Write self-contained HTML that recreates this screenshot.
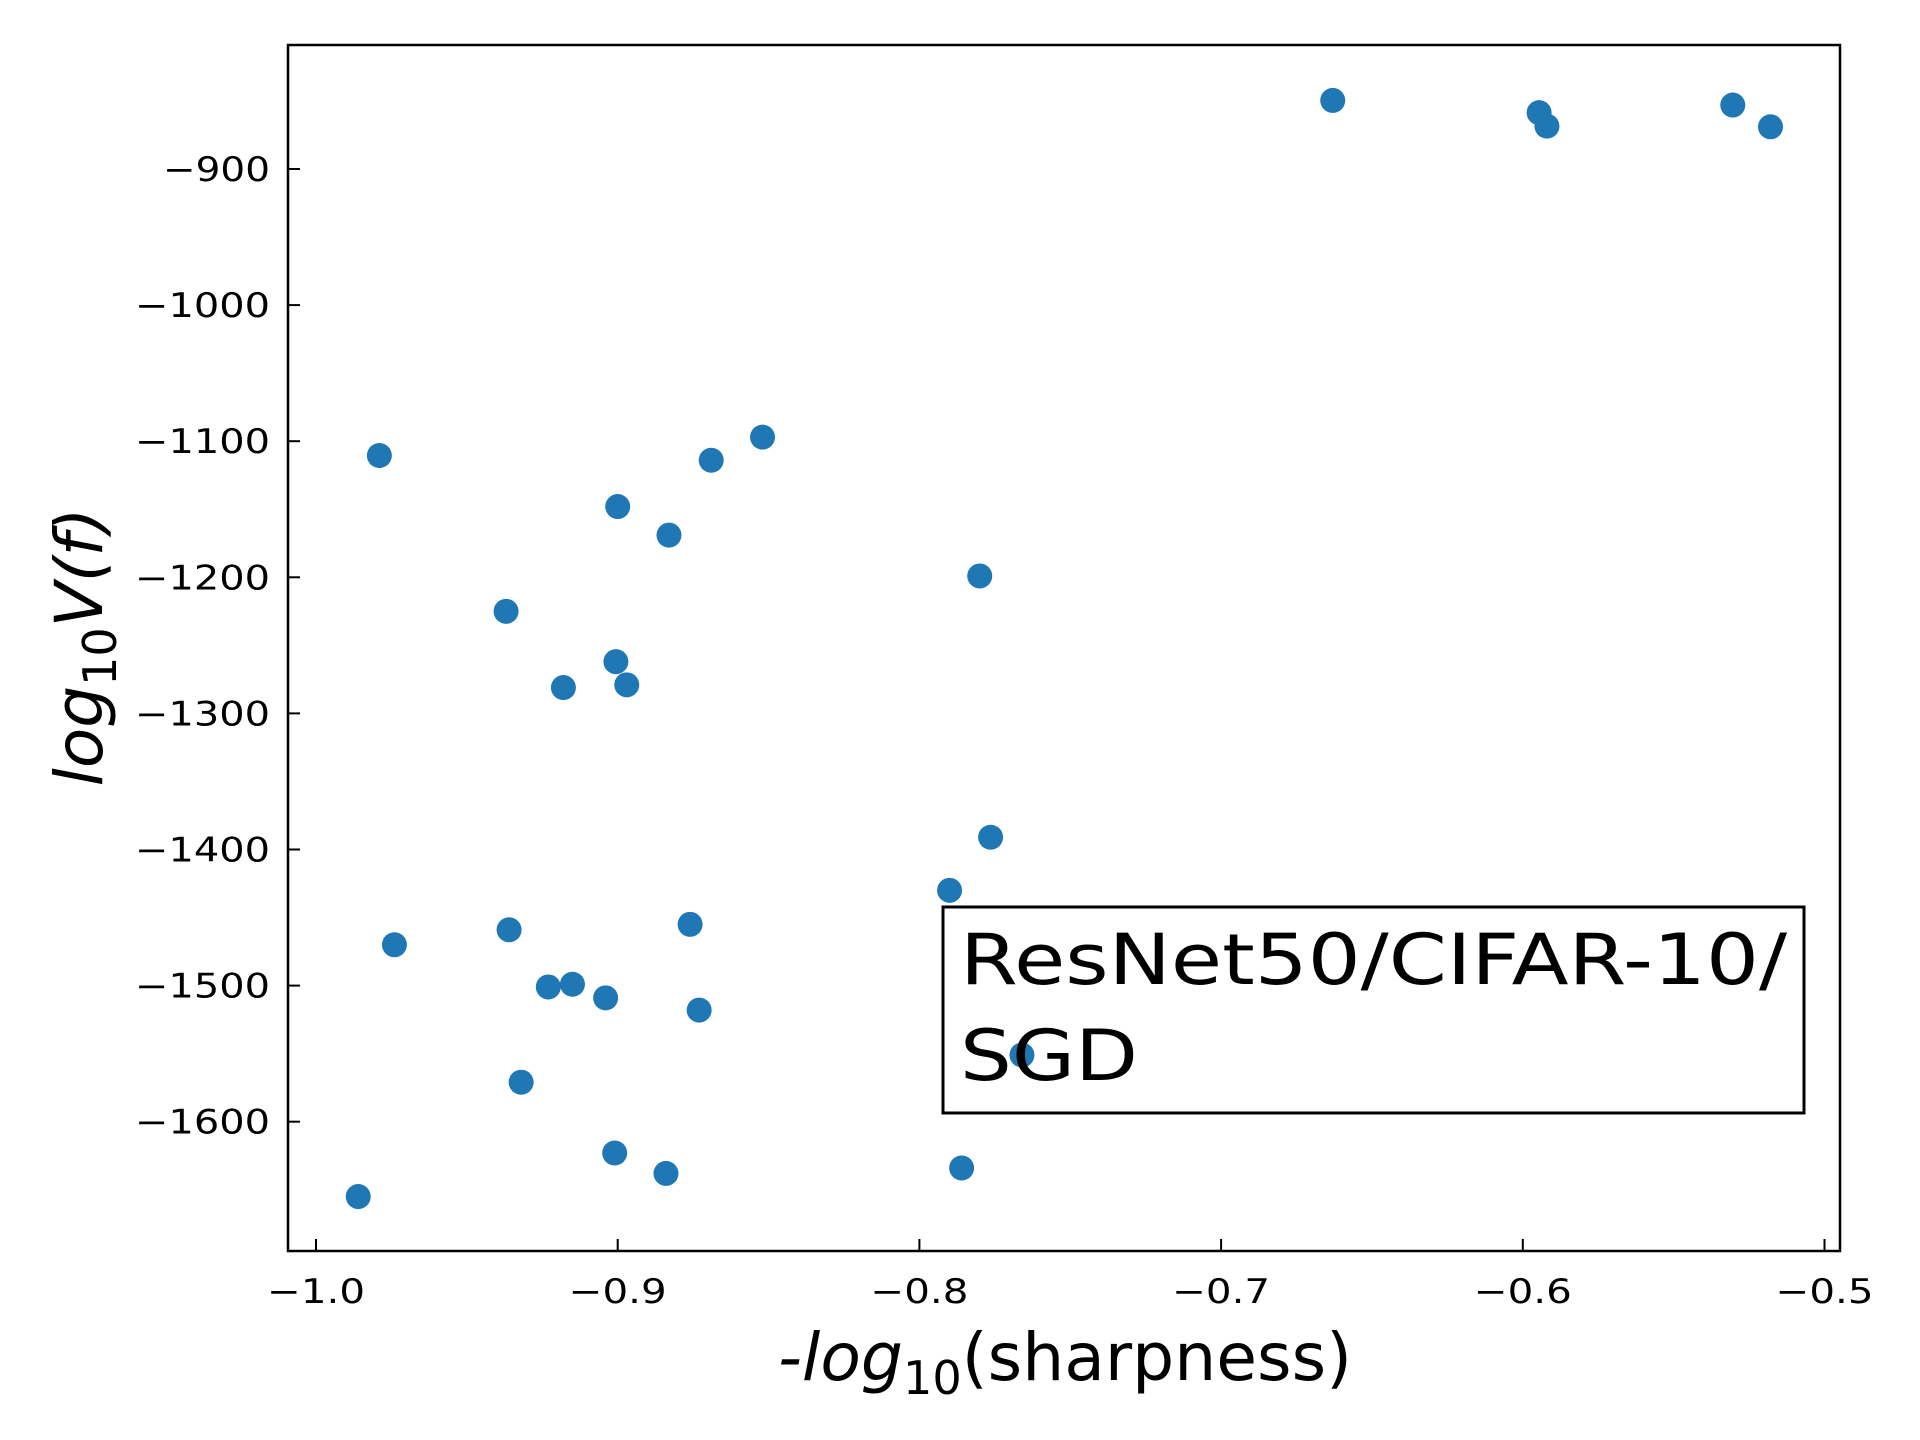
<!DOCTYPE html>
<html><head><meta charset="utf-8"><style>body{margin:0;background:#fff}svg{display:block}</style></head>
<body>
<svg id="chart" width="1920" height="1440" xmlns="http://www.w3.org/2000/svg" font-family="DejaVu Sans, Liberation Sans, sans-serif">
<rect x="288" y="45" width="1552" height="1206" fill="none" stroke="#000" stroke-width="2.5"/>
<g id="ticks"></g>
<g id="points"></g>
<text x="1065" y="1380" font-size="66" text-anchor="middle" textLength="574" lengthAdjust="spacingAndGlyphs"><tspan font-style="italic">-log</tspan><tspan font-size="46" dy="14">10</tspan><tspan dy="-14">(sharpness)</tspan></text>
<text transform="translate(102,647) rotate(-90)" font-size="66" text-anchor="middle" textLength="279" lengthAdjust="spacingAndGlyphs"><tspan font-style="italic">log</tspan><tspan font-size="46" dy="14">10</tspan><tspan dy="-14" font-style="italic">V(f)</tspan></text>
<g>
<rect x="943" y="907" width="861" height="206" fill="#fff" fill-opacity="0" stroke="#000" stroke-width="3"/>
<text x="960" y="984" font-size="70" textLength="827" lengthAdjust="spacingAndGlyphs">ResNet50/CIFAR-10/</text>
<text x="960" y="1080" font-size="70" textLength="178" lengthAdjust="spacingAndGlyphs">SGD</text>
</g>
</svg>
<script>
const xs=[-0.663,-0.5946,-0.592,-0.5304,-0.5179,-0.979,-0.852,-0.869,-0.900,-0.883,-0.780,-0.937,-0.9006,-0.918,-0.897,-0.7764,-0.790,-0.974,-0.936,-0.876,-0.923,-0.915,-0.904,-0.873,-0.766,-0.932,-0.901,-0.884,-0.786,-0.986];
const ys=[-849.6,-858.6,-868.5,-853,-869,-1110.5,-1097,-1114,-1148,-1169,-1199,-1225,-1262,-1281,-1279,-1391,-1430,-1470,-1459,-1455,-1501,-1499,-1509,-1518,-1551,-1571,-1623,-1638,-1634,-1655];
const xTicks=[-1.0,-0.9,-0.8,-0.7,-0.6,-0.5];
const xTickLabels=["\u22121.0","\u22120.9","\u22120.8","\u22120.7","\u22120.6","\u22120.5"];
const yTicks=[-900,-1000,-1100,-1200,-1300,-1400,-1500,-1600];
const yTickLabels=["\u2212900","\u22121000","\u22121100","\u22121200","\u22121300","\u22121400","\u22121500","\u22121600"];
const NS="http://www.w3.org/2000/svg";
const X=v=>316+(v+1)*3017;
const Y=v=>169+(-900-v)*1.361;
const tg=document.getElementById('ticks'), pg=document.getElementById('points');
function mk(t,a,p){const e=document.createElementNS(NS,t);for(const k in a)e.setAttribute(k,a[k]);p.appendChild(e);return e;}
xTicks.forEach((v,i)=>{const x=X(v);
 const l=mk('line',{x1:x,x2:x,y1:1251,y2:1239,stroke:'#000','stroke-width':2},tg);
 
 
 const t=mk('text',{x:x,y:1303,'font-size':34,'text-anchor':'middle',textLength:98,lengthAdjust:'spacingAndGlyphs'},tg);t.textContent=xTickLabels[i];
 
 
});
yTicks.forEach((v,i)=>{const y=Y(v);
 const l=mk('line',{x1:288,x2:300,y1:y,y2:y,stroke:'#000','stroke-width':2},tg);
 
 
 const t=mk('text',{x:270,y:y+12,'font-size':34,'text-anchor':'end',textLength:yTickLabels[i].length===4?107:135,lengthAdjust:'spacingAndGlyphs'},tg);t.textContent=yTickLabels[i];
 
 
});
xs.forEach((v,i)=>{
 const c=mk('circle',{cx:X(v),cy:Y(ys[i]),r:12.5,fill:'#1f77b4'},pg);
 
 
});
</script>
</body></html>
